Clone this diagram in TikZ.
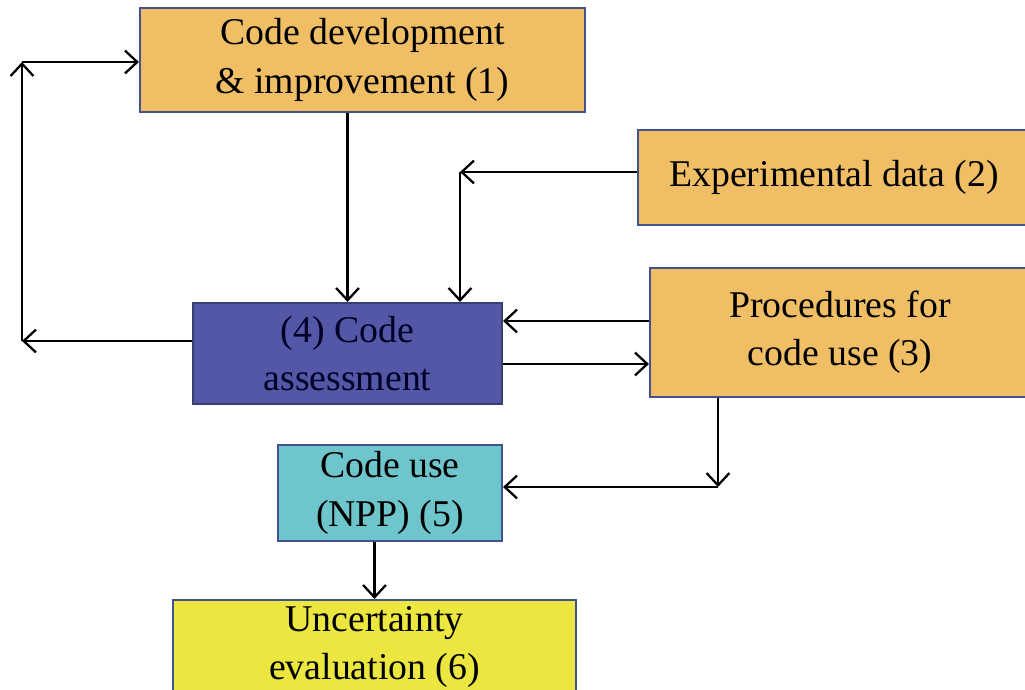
\documentclass[tikz,border=0pt]{standalone}
\usepackage{fontspec}
\setmainfont{Liberation Serif}
\usetikzlibrary{arrows.meta}

\definecolor{boxorange}{HTML}{F0BF65}
\definecolor{boxblue}{HTML}{5457A6}
\definecolor{boxteal}{HTML}{6EC6CC}
\definecolor{boxyellow}{HTML}{ECE640}
\definecolor{edgeblue}{HTML}{44518F}

\tikzset{
  block/.style={draw=edgeblue, line width=1.2pt, align=center, inner sep=0pt,
    font=\fontsize{21.5}{27.5}\selectfont},
  arr/.style={-{Straight Barb[length=7pt,width=13pt,line width=1.3pt]}, line width=1.3pt}
}

\begin{document}
\begin{tikzpicture}[x=0.02cm, y=-0.02cm]
  \useasboundingbox (0,0) rectangle (1025,690);
  \clip (0,0) rectangle (1025,690);

  % boxes
  \node[block, fill=boxorange, minimum width=445*0.02cm, minimum height=104*0.02cm] (dev) at (362.5,60)
    {Code development\\\& improvement (1)};
  \node[block, fill=boxorange, minimum width=392*0.02cm, minimum height=95*0.02cm] (exp) at (834,177.5)
    {Experimental data (2)};
  \node[block, fill=boxorange, minimum width=380*0.02cm, minimum height=129*0.02cm] (proc) at (840,332.5)
    {Procedures for\\code use (3)};
  \node[block, fill=boxblue, draw=edgeblue!80!black, text=black!85!blue, minimum width=309*0.02cm, minimum height=101*0.02cm] (asmt) at (347.5,353.5)
    {(4) Code\\assessment};
  \node[block, fill=boxteal, minimum width=224*0.02cm, minimum height=96*0.02cm] (use) at (390,493)
    {Code use\\(NPP) (5)};
  \node[block, fill=boxyellow, minimum width=403*0.02cm, minimum height=94*0.02cm] (unc) at (374.5,647)
    {Uncertainty\\evaluation (6)};

  % bends
  \coordinate (k2) at (460,172);
  \coordinate (k3) at (718,487);
  \coordinate (k4) at (22,341);
  \coordinate (k5) at (22,62);

  % connectors
  \draw[arr] (dev.south -| asmt.north) -- (asmt.north);
  \draw[arr] (exp.west |- k2) -- (k2);
  \draw[arr] (k2) -- (k2 |- asmt.north);
  \draw[arr] (proc.west |- 0,321) -- (asmt.east |- 0,321);
  \draw[arr] (asmt.east |- 0,364) -- (proc.west |- 0,364);
  \draw[arr] (proc.south -| k3) -- (k3);
  \draw[arr] (k3) -- (use.east |- k3);
  \draw[arr] (asmt.west |- k4) -- (k4);
  \draw[arr] (k4) -- (k5);
  \draw[arr] (k5) -- (dev.west |- k5);
  \draw[arr] (use.south -| unc.north) -- (unc.north);
\end{tikzpicture}
\end{document}
